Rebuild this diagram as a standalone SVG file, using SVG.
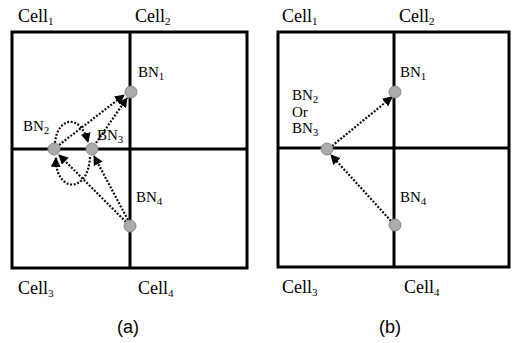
<svg xmlns="http://www.w3.org/2000/svg" width="514" height="343" viewBox="0 0 514 343">
<style>
.grid{fill:none;stroke:#000;stroke-width:3}
.cell{font-family:"Liberation Serif","Times New Roman",serif;font-size:18px;fill:#000}
.bn{font-family:"Liberation Serif","Times New Roman",serif;font-size:15px;fill:#000}
.sub{font-size:11px}
.cap{font-family:"Liberation Sans",Arial,sans-serif;font-size:18px;fill:#000;text-anchor:middle}
.dot{fill:none;stroke:#111;stroke-width:2.2;stroke-dasharray:2 1.6}
.node{fill:#ababab;stroke:#8a8a8a;stroke-width:1}
</style>
<defs>
<marker id="ah" viewBox="0 0 10 10" refX="9" refY="5" markerWidth="4.5" markerHeight="4.5" orient="auto" markerUnits="strokeWidth">
<path d="M0,0 L10,5 L0,10 z" fill="#000"/>
</marker>
</defs>

<g id="panel-a-grid">
<rect class="grid" x="12" y="32" width="235" height="236"/>
<line class="grid" x1="130" y1="32" x2="130" y2="268"/>
<line class="grid" x1="12" y1="149" x2="247" y2="149"/>
</g>
<g id="panel-b-grid">
<rect class="grid" x="278" y="32" width="231" height="235"/>
<line class="grid" x1="394" y1="32" x2="394" y2="267"/>
<line class="grid" x1="278" y1="148" x2="509" y2="148"/>
</g>

<g id="connectors">
<line class="dot" x1="59" y1="145" x2="124" y2="95" marker-end="url(#ah)"/>
<line class="dot" x1="96" y1="143" x2="127" y2="98" marker-end="url(#ah)"/>
<line class="dot" x1="126" y1="222" x2="59" y2="155" marker-end="url(#ah)"/>
<line class="dot" x1="128" y1="220" x2="94" y2="156" marker-end="url(#ah)"/>
<path class="dot" d="M55,143 C57,118 80,112 88,142" marker-end="url(#ah)"/>
<path class="dot" d="M90,157 C88,195 55,192 56,158" marker-end="url(#ah)"/>
<line class="dot" x1="332" y1="146" x2="392" y2="97" marker-end="url(#ah)"/>
<line class="dot" x1="391" y1="221" x2="331" y2="155" marker-end="url(#ah)"/>
</g>

<g id="a-BN1"><circle class="node" cx="131" cy="92" r="6"/><text class="bn" x="138" y="77">BN<tspan class="sub" dy="3">1</tspan></text></g>
<g id="a-BN2"><circle class="node" cx="54" cy="149" r="6"/><text class="bn" x="23" y="131">BN<tspan class="sub" dy="3">2</tspan></text></g>
<g id="a-BN3"><circle class="node" cx="92" cy="149" r="6"/><text class="bn" x="97" y="140">BN<tspan class="sub" dy="3">3</tspan></text></g>
<g id="a-BN4"><circle class="node" cx="130" cy="226" r="6"/><text class="bn" x="136" y="202">BN<tspan class="sub" dy="3">4</tspan></text></g>

<g id="a-labels">
<text class="cell" x="18" y="22">Cell<tspan class="sub" dy="3">1</tspan></text>
<text class="cell" x="135" y="22">Cell<tspan class="sub" dy="3">2</tspan></text>
<text class="cell" x="18" y="294">Cell<tspan class="sub" dy="3">3</tspan></text>
<text class="cell" x="138" y="294">Cell<tspan class="sub" dy="3">4</tspan></text>
<text class="cap" x="128" y="333">(a)</text>
</g>

<g id="b-BN1"><circle class="node" cx="395" cy="92" r="6"/><text class="bn" x="400" y="77">BN<tspan class="sub" dy="3">1</tspan></text></g>
<g id="b-BN23"><circle class="node" cx="327" cy="149" r="6"/><text class="bn" x="292" y="100">BN<tspan class="sub" dy="3">2</tspan></text><text class="bn" x="292" y="117">Or</text><text class="bn" x="292" y="133">BN<tspan class="sub" dy="3">3</tspan></text></g>
<g id="b-BN4"><circle class="node" cx="395" cy="225" r="6"/><text class="bn" x="400" y="202">BN<tspan class="sub" dy="3">4</tspan></text></g>

<g id="b-labels">
<text class="cell" x="282" y="22">Cell<tspan class="sub" dy="3">1</tspan></text>
<text class="cell" x="399" y="22">Cell<tspan class="sub" dy="3">2</tspan></text>
<text class="cell" x="282" y="293">Cell<tspan class="sub" dy="3">3</tspan></text>
<text class="cell" x="404" y="293">Cell<tspan class="sub" dy="3">4</tspan></text>
<text class="cap" x="390" y="333">(b)</text>
</g>
</svg>
